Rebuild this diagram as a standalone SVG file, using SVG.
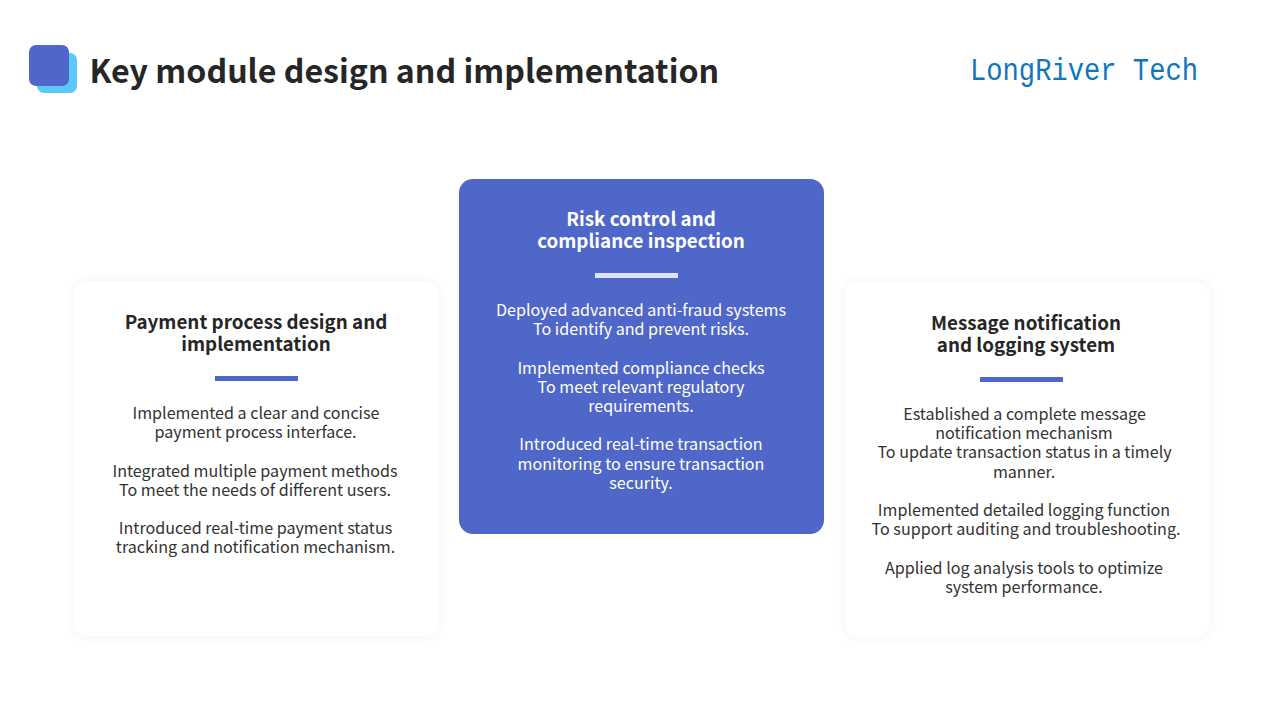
<svg xmlns="http://www.w3.org/2000/svg" width="1280" height="720" viewBox="0 0 1280 720">
<style>
text{font-family:"Noto Sans CJK SC","Noto Sans",sans-serif;text-anchor:middle}
.t{font-size:18.8px;font-weight:700;fill:#262626}
.b{font-size:16.1px;fill:#333}
.w{fill:#fff}
.card{fill:#fff;filter:url(#s)}
</style>
<defs><filter id="s" x="-10%" y="-10%" width="120%" height="120%"><feDropShadow dx="0" dy="0" stdDeviation="4" flood-color="#4f67c9" flood-opacity="0.07"/></filter></defs>
<rect width="1280" height="720" fill="#fff"/>
<g id="header">
<rect x="37" y="53" width="40" height="40" rx="7" fill="#5bc8f8"/>
<rect x="29" y="45" width="40" height="41" rx="7" fill="#4f67c9"/>
<text x="89.5" y="83" style="text-anchor:start;font-size:32.15px;font-weight:700;fill:#262626">Key module design and implementation</text>
<text x="970" y="80" style="text-anchor:start;font-family:'Liberation Mono',monospace;font-size:31px;fill:#0f75bc" textLength="228" lengthAdjust="spacingAndGlyphs">LongRiver Tech</text>
</g>
<g id="card-left">
<rect class="card" x="74" y="281" width="365" height="355" rx="14"/>
<text class="t" x="256" y="329">Payment process design and</text>
<text class="t" x="256" y="351">implementation</text>
<rect x="215" y="376" width="83" height="5" fill="#4f67c9"/>
<text class="b" x="256" y="419">Implemented a clear and concise</text>
<text class="b" x="255.5" y="438">payment process interface.</text>
<text class="b" x="255" y="477">Integrated multiple payment methods</text>
<text class="b" x="255" y="496">To meet the needs of different users.</text>
<text class="b" x="255.5" y="534">Introduced real-time payment status</text>
<text class="b" x="255.5" y="553">tracking and notification mechanism.</text>
</g>
<g id="card-center">
<rect x="459" y="179" width="365" height="355" rx="14" fill="#4f67c9"/>
<text class="t w" x="641" y="226">Risk control and</text>
<text class="t w" x="641" y="248">compliance inspection</text>
<rect x="595" y="273" width="83" height="5" fill="#dfe3f6"/>
<text class="b w" x="641" y="316">Deployed advanced anti-fraud systems</text>
<text class="b w" x="641" y="335">To identify and prevent risks.</text>
<text class="b w" x="641" y="374">Implemented compliance checks</text>
<text class="b w" x="641" y="393">To meet relevant regulatory</text>
<text class="b w" x="641" y="412">requirements.</text>
<text class="b w" x="641" y="450">Introduced real-time transaction</text>
<text class="b w" x="641" y="470">monitoring to ensure transaction</text>
<text class="b w" x="641" y="489">security.</text>
</g>
<g id="card-right">
<rect class="card" x="845" y="282" width="364.5" height="355" rx="14"/>
<text class="t" x="1026" y="330">Message notification</text>
<text class="t" x="1026" y="352">and logging system</text>
<rect x="980" y="377" width="83" height="5" fill="#4f67c9"/>
<text class="b" x="1024.5" y="420">Established a complete message</text>
<text class="b" x="1024" y="439">notification mechanism</text>
<text class="b" x="1024.5" y="458">To update transaction status in a timely</text>
<text class="b" x="1024" y="478">manner.</text>
<text class="b" x="1024" y="516">Implemented detailed logging function</text>
<text class="b" x="1026" y="535">To support auditing and troubleshooting.</text>
<text class="b" x="1024" y="574">Applied log analysis tools to optimize</text>
<text class="b" x="1024" y="593">system performance.</text>
</g>
</svg>
